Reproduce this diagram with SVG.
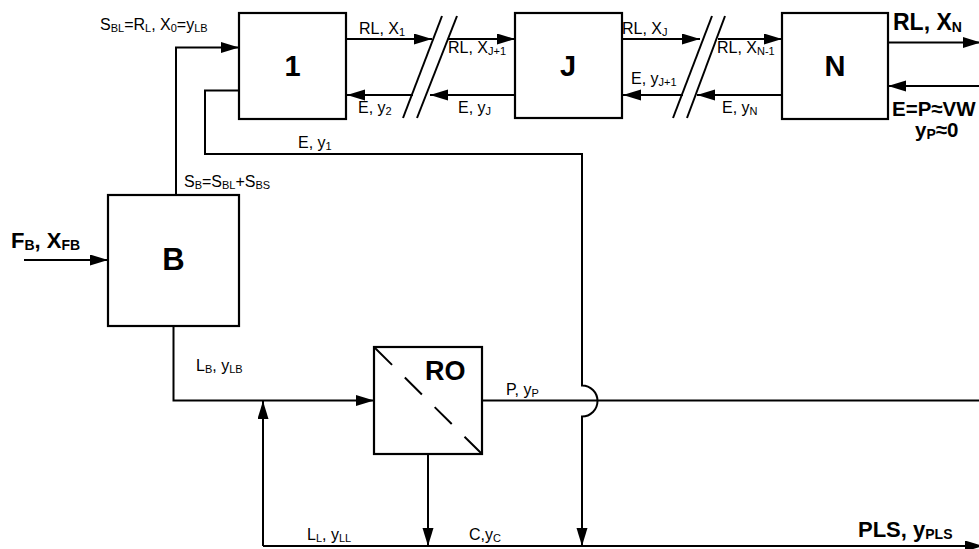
<svg xmlns="http://www.w3.org/2000/svg" width="979" height="549" viewBox="0 0 979 549">
<style>
text{font-family:"Liberation Sans",Arial,sans-serif;fill:#000}
.t{font-size:16px}
.sb{font-size:11px}
.bt{font-size:22px;font-weight:bold}
.bsb{font-size:14px;font-weight:bold}
.big{font-size:29px;font-weight:bold;text-anchor:middle}
.box{fill:#fff;stroke:#000;stroke-width:2.2}
.ln{fill:none;stroke:#000;stroke-width:2}
.arr{fill:none;stroke:#000;stroke-width:2;marker-end:url(#ah)}
</style>
<defs>
<marker id="ah" markerUnits="userSpaceOnUse" markerWidth="18" markerHeight="12" refX="18" refY="5.5" orient="auto">
<path d="M0,0 L18,5.5 L0,11 z" fill="#000"/>
</marker>
</defs>
<rect width="979" height="549" fill="#fff"/>

<g id="connectors">
<path class="arr" d="M346,39 H432"/>
<path class="arr" d="M448,39 H515"/>
<path class="arr" d="M413,95 H347"/>
<path class="arr" d="M515,95 H430"/>
<line class="ln" x1="442" y1="16" x2="403" y2="118"/>
<line class="ln" x1="457" y1="16" x2="417" y2="118"/>
<path class="arr" d="M622,39 H700"/>
<path class="arr" d="M718,39 H782"/>
<path class="arr" d="M683,95 H623"/>
<path class="arr" d="M782,95 H697"/>
<line class="ln" x1="712" y1="16" x2="673" y2="118"/>
<line class="ln" x1="725" y1="16" x2="687" y2="118"/>
<path class="arr" d="M888,42.5 H981"/>
<path class="arr" d="M981,86 H888"/>
<path class="arr" d="M176,195 V47.5 H239"/>
<path class="arr" d="M24,260 H108"/>
<path class="arr" d="M239,90.5 H205 V154 H582 V385.5 A15.5,15.5 0 0 1 582,416.5 V546"/>
<path class="arr" d="M173.5,326 V400.5 H374"/>
<path class="ln" d="M482,400.5 H979"/>
<path class="arr" d="M428,454 V546"/>
<path class="arr" d="M263,546 H983"/>
<path class="arr" d="M263,546 V401"/>
</g>

<g id="node-1">
<rect class="box" x="239" y="13" width="107" height="106"/>
<text class="big" x="292.5" y="76">1</text>
</g>
<g id="node-J">
<rect class="box" x="515" y="13" width="107" height="105"/>
<text class="big" x="568" y="76">J</text>
</g>
<g id="node-N">
<rect class="box" x="782" y="13" width="106" height="106"/>
<text class="big" x="835" y="76">N</text>
</g>
<g id="node-B">
<rect class="box" x="108" y="195" width="131" height="131"/>
<text class="big" x="173.5" y="270" style="font-size:31px">B</text>
</g>
<g id="node-RO">
<rect class="box" x="374" y="347" width="108" height="107"/>
<line x1="375" y1="348" x2="481" y2="453" stroke="#000" stroke-width="2" stroke-dasharray="24 18"/>
<text x="425" y="380" style="font-size:27px;font-weight:bold">RO</text>
</g>

<g id="labels">
<text class="t" x="100" y="29.5">S<tspan class="sb" dy="2">BL</tspan><tspan dy="-2">=R</tspan><tspan class="sb" dy="2">L</tspan><tspan dy="-2">, X</tspan><tspan class="sb" dy="2">0</tspan><tspan dy="-2">=y</tspan><tspan class="sb" dy="2">LB</tspan></text>
<text class="t" x="359" y="34">RL, X<tspan class="sb" dy="2">1</tspan></text>
<text class="t" x="448" y="53">RL, X<tspan class="sb" dy="2">J+1</tspan></text>
<text class="t" x="358" y="113">E, y<tspan class="sb" dy="2">2</tspan></text>
<text class="t" x="458" y="113">E, y<tspan class="sb" dy="2">J</tspan></text>
<text class="t" x="622" y="34">RL, X<tspan class="sb" dy="2">J</tspan></text>
<text class="t" x="631" y="84">E, y<tspan class="sb" dy="2">J+1</tspan></text>
<text class="t" x="717" y="53">RL, X<tspan class="sb" dy="2">N-1</tspan></text>
<text class="t" x="722" y="113">E, y<tspan class="sb" dy="2">N</tspan></text>
<text class="t" x="298" y="147.5">E, y<tspan class="sb" dy="2">1</tspan></text>
<text class="t" x="184" y="186.5">S<tspan class="sb" dy="2">B</tspan><tspan dy="-2">=S</tspan><tspan class="sb" dy="2">BL</tspan><tspan dy="-2">+S</tspan><tspan class="sb" dy="2">BS</tspan></text>
<text class="t" x="196" y="371">L<tspan class="sb" dy="2">B</tspan><tspan dy="-2">, y</tspan><tspan class="sb" dy="2">LB</tspan></text>
<text class="t" x="506" y="395">P, y<tspan class="sb" dy="2">P</tspan></text>
<text class="t" x="307" y="540">L<tspan class="sb" dy="2">L</tspan><tspan dy="-2">, y</tspan><tspan class="sb" dy="2">LL</tspan></text>
<text class="t" x="469" y="540">C,y<tspan class="sb" dy="2">C</tspan></text>
<text class="bt" x="11" y="248">F<tspan class="bsb" dy="2">B</tspan><tspan dy="-2">, X</tspan><tspan class="bsb" dy="2">FB</tspan></text>
<text class="bt" x="893" y="30" style="font-size:23px">RL, X<tspan class="bsb" dy="2">N</tspan></text>
<text class="bt" x="892" y="116" style="font-size:20.5px">E=P≈VW</text>
<text class="bt" x="915" y="137" style="font-size:20.5px">y<tspan class="bsb" dy="2">P</tspan><tspan dy="-2">≈0</tspan></text>
<text class="bt" x="858" y="537">PLS, y<tspan class="bsb" dy="2">PLS</tspan></text>
</g>
</svg>
